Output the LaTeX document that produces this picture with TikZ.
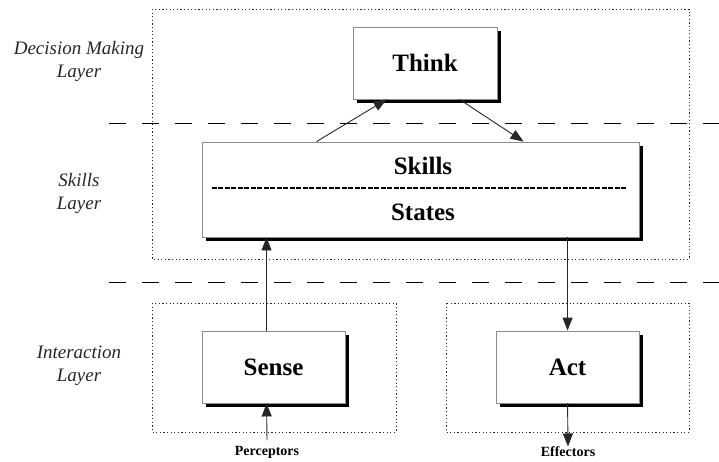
\documentclass[tikz,border=0pt]{standalone}
\usepackage{fontspec}
\setmainfont{Liberation Serif}
\usetikzlibrary{arrows.meta,shadows,calc}
\tikzset{
  blk/.style={draw=black!45, line width=0.9pt, fill=white, inner sep=0pt,
    drop shadow={shadow xshift=4pt, shadow yshift=-4pt, fill=black, opacity=1},
    font=\fontsize{25}{28}\selectfont\bfseries},
  layerbox/.style={draw=black!85, line width=1pt, dash pattern=on 1.2pt off 2.4pt},
  layerline/.style={draw=black, line width=1pt, dash pattern=on 17pt off 16pt},
  lbl/.style={font=\fontsize{19}{23}\selectfont\itshape, align=center, text=black!85},
  io/.style={font=\fontsize{14}{16}\selectfont\bfseries},
  arr/.style={draw=black!85, line width=0.9pt, -{Triangle[length=13pt,width=10pt]}}
}
\begin{document}
\begin{tikzpicture}[x=1pt,y=-1pt]
\useasboundingbox (0,0) rectangle (719,461);
% layer containers
\draw[layerbox] (152,9) rectangle (689,259);
\draw[layerbox] (152,303) rectangle (396,432);
\draw[layerbox] (446,303) rectangle (689,432);
% layer separators
\draw[layerline] (109,123) -- (719,123);
\draw[layerline] (109,282) -- (719,282);
% layer labels
\node[lbl] (ldm) at (79,61) {Decision Making\\Layer};
\node[lbl] (lsk) at (79,193) {Skills\\Layer};
\node[lbl] (lin) at (79,366) {Interaction\\Layer};
% boxes
\node[blk, minimum width=144pt, minimum height=72pt] (think) at (425,63) {Think};
\node[blk, minimum width=437pt, minimum height=95pt] (skills) at (420.5,189.5) {};
\node[font=\fontsize{25}{28}\selectfont\bfseries] (sk) at (423,166) {Skills};
\node[font=\fontsize{25}{28}\selectfont\bfseries] (st) at (423,212) {States};
\draw[line width=2.2pt, dash pattern=on 5pt off 1.5pt] ($(skills.west)+(10,-1.5)$) coordinate (dl) -- ($(skills.east)+(-13,-1.5)$) coordinate (dr);
\node[blk, minimum width=143pt, minimum height=72pt] (sense) at (273.5,367) {Sense};
\node[blk, minimum width=143pt, minimum height=72pt] (act) at (567.5,367) {Act};
% io labels
\node[io] (perc) at (267,452) {Perceptors};
\node[io] (eff) at (568,452) {Effectors};
% connectors
\draw[arr] ($(skills.north west)+(115,0)$) -- ($(think.south west)+(34,0)$);
\draw[arr] ($(think.south west)+(107,0)$) -- ($(skills.north west)+(322,0)$);
\draw[arr] ($(sense.north west)+(65,0)$) -- ($(skills.south west)+(65,0)$);
\draw[arr] ($(perc.north)+(0,-2)$) -- ($(sense.south west)+(65,0)$);
\draw[arr] ($(skills.south west)+(366,0)$) -- ($(act.north west)+(72,0)$);
\draw[arr] ($(act.south west)+(72,0)$) -- ($(eff.north)+(0,3)$);
\end{tikzpicture}
\end{document}
